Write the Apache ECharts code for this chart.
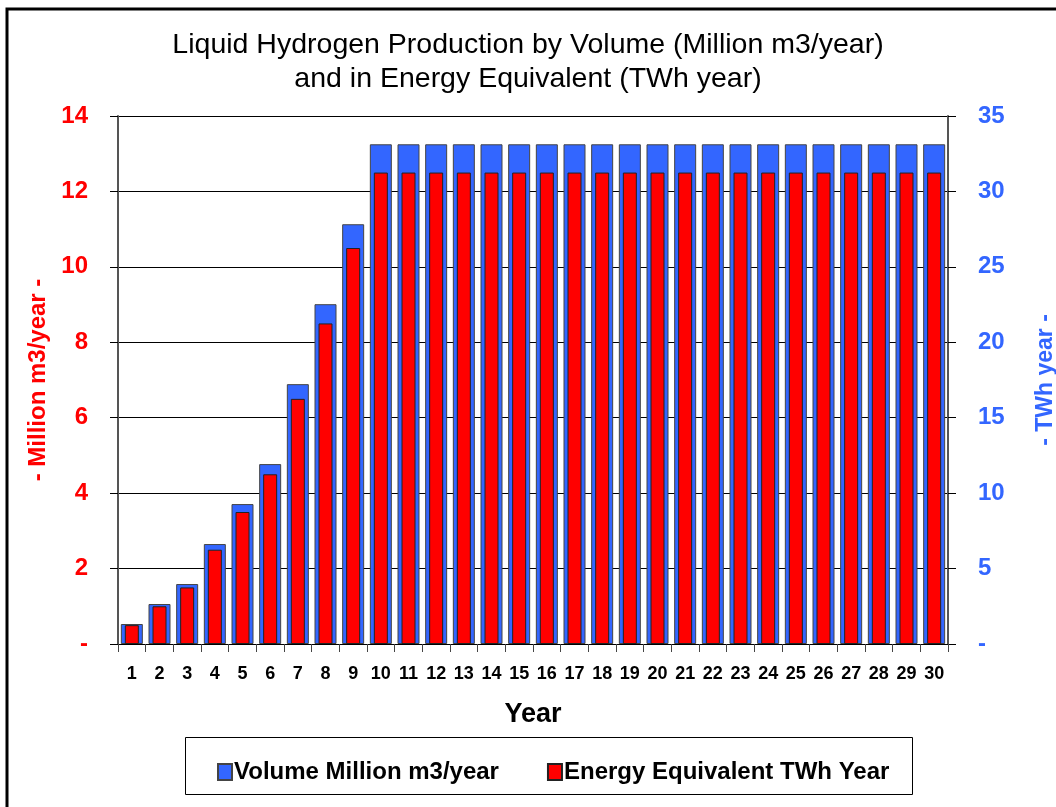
<!DOCTYPE html>
<html>
<head>
<meta charset="utf-8">
<script src="https://cdn.jsdelivr.net/npm/echarts@6/dist/echarts.min.js"></script>
<style>
html,body{margin:0;padding:0;background:#fff;}
#chart{width:1056px;height:807px;}
</style>
</head>
<body>
<div id="chart"></div>
<script>
const years = ['1','2','3','4','5','6','7','8','9','10','11','12','13','14','15','16','17','18','19','20','21','22','23','24','25','26','27','28','29','30'];
// Blue bars, read on the right axis (TWh year)
const volumeSeries = [1.325,2.65,3.975,6.625,9.275,11.925,17.225,22.525,27.825,33.125,33.125,33.125,33.125,33.125,33.125,33.125,33.125,33.125,33.125,33.125,33.125,33.125,33.125,33.125,33.125,33.125,33.125,33.125,33.125,33.125];
// Red bars, read on the left axis (Million m3/year)
const energySeries = [0.5,1,1.5,2.5,3.5,4.5,6.5,8.5,10.5,12.5,12.5,12.5,12.5,12.5,12.5,12.5,12.5,12.5,12.5,12.5,12.5,12.5,12.5,12.5,12.5,12.5,12.5,12.5,12.5,12.5];
const titleLines = ['Liquid Hydrogen Production by Volume (Million m3/year)','and in Energy Equivalent (TWh year)'];
const seriesNames = ['Volume Million m3/year','Energy Equivalent TWh Year'];

const FONT = 'Liberation Sans, Arial, sans-serif';
const chart = echarts.init(document.getElementById('chart'));
chart.setOption({
  animation:false,
  backgroundColor:'#fff',
  textStyle:{fontFamily:FONT},
  title:{
    text:titleLines.join('\n'),
    left:'center', top:23,
    textStyle:{fontFamily:FONT,fontSize:28.5,fontWeight:'normal',color:'#000',lineHeight:34}
  },
  graphic:[
    {type:'rect',shape:{x:7,y:9,width:1070,height:820},style:{fill:null,stroke:'#000',lineWidth:3},silent:true},
    {type:'rect',shape:{x:185.5,y:737.5,width:727,height:57},style:{fill:'#fff',stroke:'#000',lineWidth:1},z:-1,silent:true}
  ],
  legend:{
    data:seriesNames,
    left:212, top:755,
    itemWidth:14, itemHeight:16, itemGap:48,
    icon:'rect',
    textStyle:{fontFamily:FONT,fontSize:24,fontWeight:'bold',color:'#000',padding:[0,0,0,-3]}
  },
  grid:{left:118,right:108,top:116,bottom:163,containLabel:false,outerBoundsMode:'none'},
  xAxis:[{
    type:'category', data:years,
    name:'Year', nameLocation:'middle', nameGap:57,
    nameTextStyle:{fontFamily:FONT,fontSize:27,fontWeight:'bold',color:'#000',verticalAlign:'top'},
    axisLine:{lineStyle:{color:'#000',width:1}},
    axisTick:{show:true,length:8,lineStyle:{color:'#444'}},
    axisLabel:{fontFamily:FONT,fontSize:18,fontWeight:'bold',color:'#000',margin:21,interval:0}
  },{
    type:'category', data:years, show:false, position:'bottom'
  }],
  yAxis:[
    {
      type:'value', min:0, max:14, interval:2, position:'left',
      name:'- Million m3/year -', nameLocation:'middle', nameGap:68, nameRotate:90,
      nameTextStyle:{fontFamily:FONT,fontSize:24,fontWeight:'bold',color:'#FF0000'},
      axisLine:{show:true,lineStyle:{color:'#555',width:2}},
      axisTick:{show:true,length:8,lineStyle:{color:'#000'}},
      axisLabel:{fontFamily:FONT,fontSize:24,fontWeight:'bold',color:'#FF0000',margin:30,
        formatter:v=>v===0?'-':String(v)},
      splitLine:{show:true,lineStyle:{color:'#000',width:1}}
    },
    {
      type:'value', min:0, max:35, interval:5, position:'right',
      name:'- TWh year -', nameLocation:'middle', nameGap:86, nameRotate:90,
      nameTextStyle:{fontFamily:FONT,fontSize:23,fontWeight:'bold',color:'#3366FF'},
      axisLine:{show:true,lineStyle:{color:'#555',width:2}},
      axisTick:{show:true,length:8,lineStyle:{color:'#000'}},
      axisLabel:{fontFamily:FONT,fontSize:24,fontWeight:'bold',color:'#3366FF',margin:30,
        formatter:v=>v===0?'-':String(v)},
      splitLine:{show:false}
    }
  ],
  series:[
    {
      name:seriesNames[0], type:'bar', xAxisIndex:0, yAxisIndex:1, data:volumeSeries,
      barWidth:22,
      itemStyle:{color:'#3366FF',borderColor:'#444',borderWidth:1}
    },
    {
      name:seriesNames[1], type:'bar', xAxisIndex:1, yAxisIndex:0, data:energySeries,
      barWidth:14,
      itemStyle:{color:'#FF0000',borderColor:'#222',borderWidth:1}
    }
  ]
});
</script>
</body>
</html>
